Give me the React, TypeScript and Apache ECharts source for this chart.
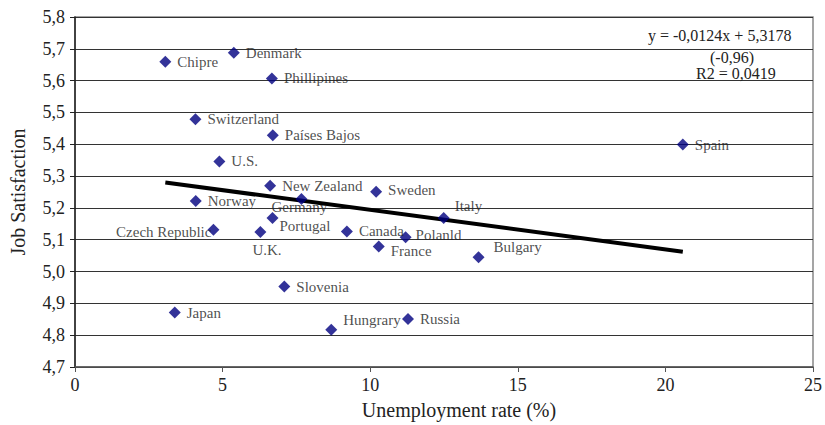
import React, { useEffect, useRef } from "react";
import * as echarts from "echarts";

const countries = ["Chipre", "Denmark", "Phillipines", "Switzerland", "Países Bajos", "U.S.", "New Zealand", "Sweden", "Norway", "Germany", "Portugal", "Czech Republic", "U.K.", "Canada", "Polanld", "France", "Italy", "Bulgary", "Spain", "Slovenia", "Japan", "Hungrary", "Russia"];
const unemployment = [3.06, 5.38, 6.67, 4.08, 6.70, 4.89, 6.61, 10.2, 4.09, 7.67, 6.69, 4.69, 6.28, 9.21, 11.2, 10.29, 12.49, 13.67, 20.59, 7.09, 3.38, 8.68, 11.28];
const satisfaction = [5.659, 5.688, 5.607, 5.479, 5.428, 5.346, 5.270, 5.251, 5.222, 5.228, 5.168, 5.131, 5.124, 5.126, 5.108, 5.079, 5.168, 5.045, 5.399, 4.953, 4.871, 4.817, 4.851];
const slope = -0.0124;
const intercept = 5.3178;
const trendX = [3.06, 20.59];
const equationLines = ["y = -0,0124x + 5,3178", "(-0,96)", "R2 = 0,0419"];

const labelTweaks: Record<string, { position: string; offset: number[] }> = {
  Germany: { position: "right", offset: [-42, 8] },
  Portugal: { position: "right", offset: [-5, 8] },
  "U.K.": { position: "right", offset: [-20, 18] },
  France: { position: "right", offset: [0, 5] },
  Polanld: { position: "right", offset: [-2, -2] },
  Italy: { position: "right", offset: [-1, -12] },
  Bulgary: { position: "right", offset: [3, -10] },
  Sweden: { position: "right", offset: [0, -2] },
  "Czech Republic": { position: "left", offset: [10, 2] },
  Hungrary: { position: "right", offset: [0, -10] },
};

const serif = "'Liberation Serif', 'Times New Roman', 'DejaVu Serif', serif";
const comma = (v: number) => v.toFixed(1).replace(".", ",");

export default function App() {
  const ref = useRef<HTMLDivElement>(null);
  useEffect(() => {
    if (!ref.current) return;
    const chart = echarts.init(ref.current, undefined, { renderer: "svg" });
    const points = countries.map((c, i) => {
      const t = labelTweaks[c] || { position: "right", offset: [0, 0] };
      return {
        name: c,
        value: [unemployment[i], satisfaction[i]],
        label: { show: true, formatter: c, position: t.position, offset: t.offset, distance: 6 },
      };
    });
    chart.setOption({
      animation: false,
      textStyle: { fontFamily: serif },
      grid: { left: 71, right: 9, top: 17, bottom: 55, show: true, borderColor: "#888", borderWidth: 1.5 },
      xAxis: {
        type: "value",
        min: 0,
        max: 25,
        interval: 5,
        name: "Unemployment rate (%)",
        nameLocation: "middle",
        nameGap: 33,
        nameTextStyle: { fontFamily: serif, fontSize: 20, color: "#222", padding: [0, 0, 0, 30] },
        axisLine: { show: true, lineStyle: { color: "#555", width: 1.5 } },
        axisTick: { show: true, length: 5, inside: false, lineStyle: { color: "#555" } },
        axisLabel: { fontFamily: serif, fontSize: 18, color: "#222", margin: 9 },
        splitLine: { show: false },
      },
      yAxis: {
        type: "value",
        min: 4.7,
        max: 5.8,
        interval: 0.1,
        name: "Job Satisfaction",
        nameLocation: "middle",
        nameGap: 47,
        nameTextStyle: { fontFamily: serif, fontSize: 20, color: "#222" },
        axisLine: { show: true, lineStyle: { color: "#222", width: 1.5 } },
        axisTick: { show: true, length: 5, lineStyle: { color: "#222" } },
        axisLabel: { fontFamily: serif, fontSize: 18, color: "#222", margin: 10, formatter: (v: number) => comma(v) },
        splitLine: { show: true, lineStyle: { color: "#333", width: 1.2 } },
      },
      series: [
        {
          type: "line",
          data: trendX.map((x) => [x, intercept + slope * x]),
          symbol: "none",
          lineStyle: { color: "#000", width: 4 },
          z: 2,
        },
        {
          type: "scatter",
          data: points,
          symbol: "diamond",
          symbolSize: 12,
          itemStyle: { color: "#00007f" },
          label: { fontFamily: serif, fontSize: 15, color: "#222" },
          z: 3,
        },
      ],
      graphic: [
        { type: "text", x: 648, y: 35.5, z: 10, style: { text: equationLines[0], fontFamily: serif, fontSize: 16, fill: "#222", textAlign: "left", textVerticalAlign: "middle" } },
        { type: "text", x: 732, y: 57, z: 10, style: { text: equationLines[1], fontFamily: serif, fontSize: 16, fill: "#222", textAlign: "center", textVerticalAlign: "middle" } },
        { type: "text", x: 696, y: 73, z: 10, style: { text: equationLines[2], fontFamily: serif, fontSize: 16, fill: "#222", textAlign: "left", textVerticalAlign: "middle" } },
      ],
    });
    return () => chart.dispose();
  }, []);
  return <div ref={ref} style={{ width: 825, height: 425, position: "fixed", left: 0, top: 0, background: "#fff" }} />;
}
